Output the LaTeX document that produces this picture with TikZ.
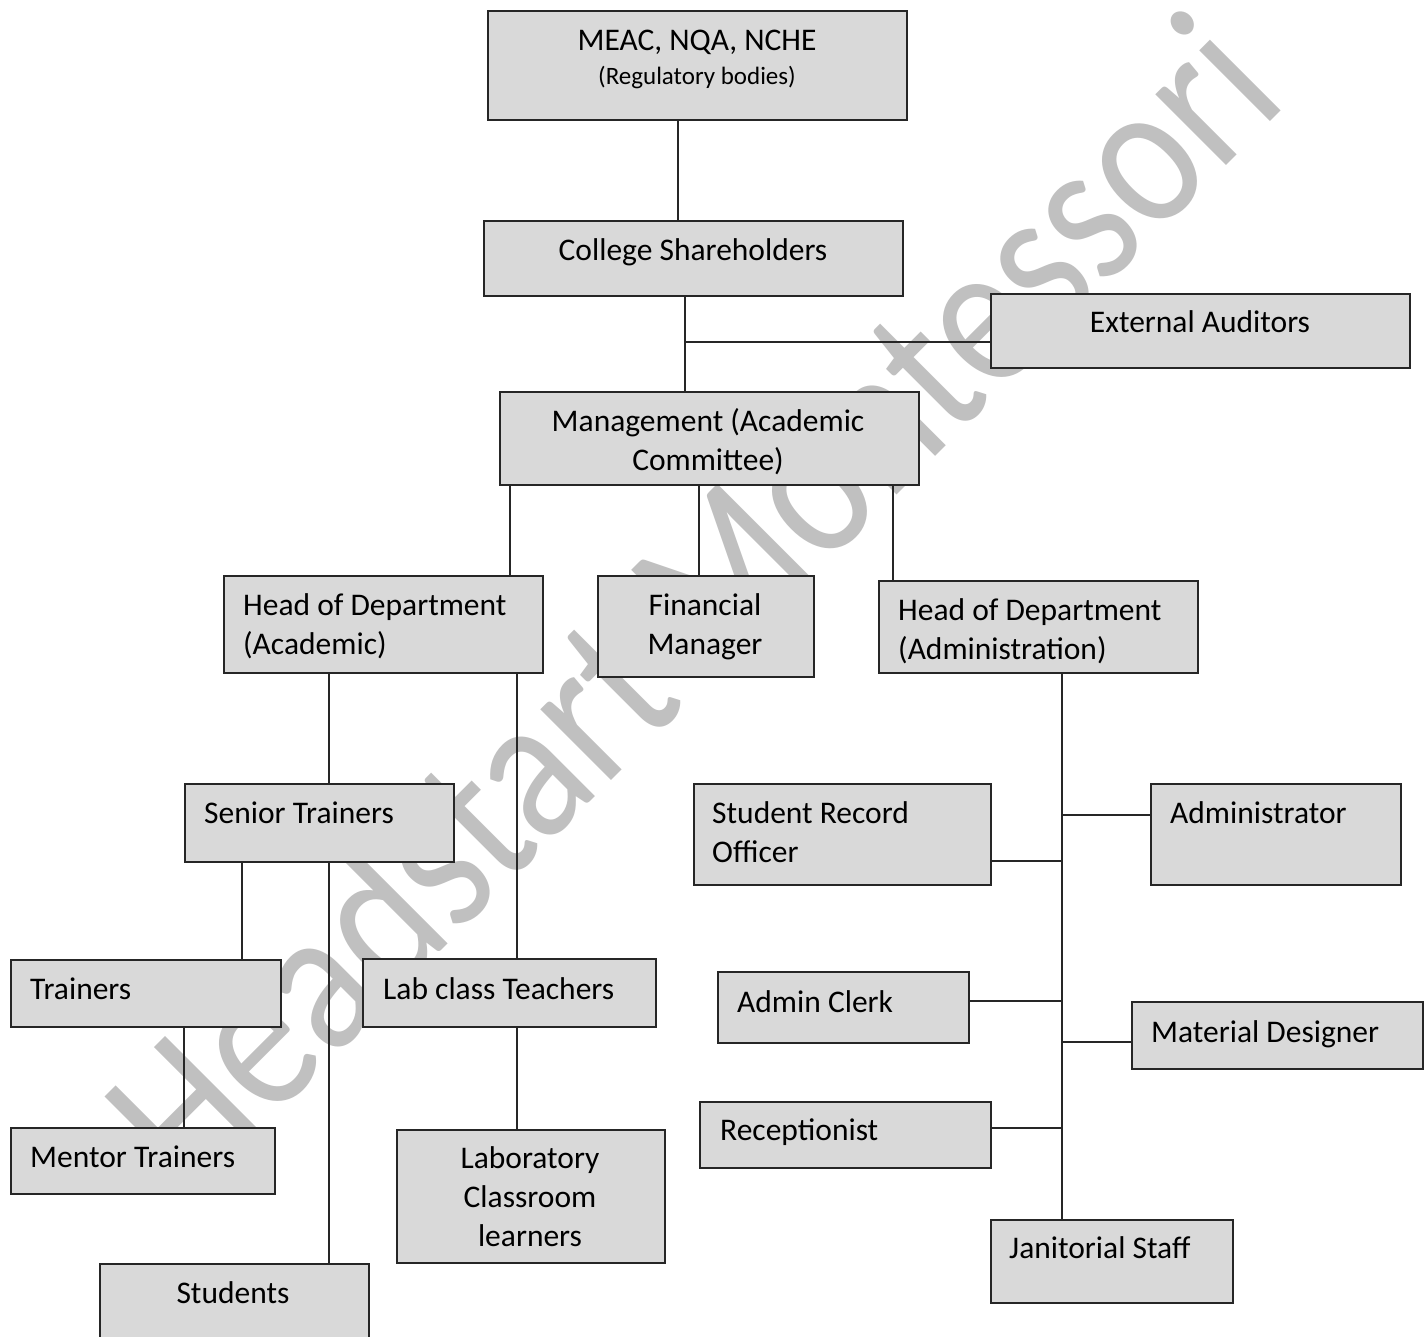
\documentclass[tikz,border=0pt]{standalone}
\usepackage{fontspec}
\setmainfont{Carlito}
\usetikzlibrary{calc}
\definecolor{boxfill}{HTML}{D9D9D9}
\definecolor{boxline}{HTML}{262626}
\definecolor{wmgray}{HTML}{C0C0C0}
\newcommand\boxtxt[2]{\begin{tabular}[t]{@{}#1@{}}#2\end{tabular}}
\tikzset{
  orgbox/.style={draw=boxline, fill=boxfill, line width=1.6pt, inner sep=0pt, anchor=north west},
  lbl/.style={inner sep=0pt, font=\fontsize{31.5}{39}\selectfont},
  lblsmall/.style={inner sep=0pt, font=\fontsize{25}{30}\selectfont},
  conn/.style={draw=boxline, line width=1.3pt},
  wm/.style={inner sep=0pt, text=wmgray, font=\fontsize{176}{200}\selectfont}
}
\newcommand\orgrect[5]{\node[orgbox, minimum width=#4-#2, minimum height=#5-#3] (#1) at (#2,#3) {};}
\begin{document}
\begin{tikzpicture}[x=1pt,y=-1pt]
\useasboundingbox (0,0) rectangle (1428,1337);
\clip (0,0) rectangle (1428,1337);
\fill[white] (0,0) rectangle (1428,1337);
% watermark
\node[wm, rotate=45, yscale=1.19, anchor=base] (wmark) at (741,651) {Headstart Montessori};
% boxes
\orgrect{meac}{487}{10}{906}{119}
\orgrect{college}{483}{220}{902}{295}
\orgrect{ext}{990}{293}{1409}{367}
\orgrect{mgmt}{499}{391}{918}{484}
\orgrect{hoda}{223}{575}{542}{672}
\orgrect{fin}{597}{575}{813}{676}
\orgrect{hodadm}{878}{580}{1197}{672}
\orgrect{senior}{184}{783}{453}{861}
\orgrect{trainers}{10}{959}{280}{1026}
\orgrect{lab}{362}{958}{655}{1026}
\orgrect{mentor}{10}{1127}{274}{1193}
\orgrect{students}{99}{1263}{368}{1345}
\orgrect{labcls}{396}{1129}{664}{1262}
\orgrect{sro}{693}{783}{990}{884}
\orgrect{admin}{1150}{783}{1400}{884}
\orgrect{clerk}{717}{971}{968}{1042}
\orgrect{matdes}{1131}{1001}{1422}{1068}
\orgrect{recep}{699}{1101}{990}{1167}
\orgrect{jan}{990}{1219}{1232}{1302}
% texts
\node[lbl, anchor=base] (tmeac) at (697,51) {MEAC, NQA, NCHE};
\node[lblsmall, anchor=base] (tmeac2) at (697,85) {(Regulatory bodies)};
\node[lbl, anchor=base] (tcollege) at (693,261) {College Shareholders};
\node[lbl, anchor=base] (text) at (1200,333) {External Auditors};
\node[lbl, anchor=base] (tmgmt) at (708,432) {\boxtxt{c}{Management (Academic\\Committee)}};
\node[lbl, anchor=base west] (thoda) at (243,615) {\boxtxt{l}{Head of Department\\(Academic)}};
\node[lbl, anchor=base] (tfin) at (705,615) {\boxtxt{c}{Financial\\Manager}};
\node[lbl, anchor=base west] (thodadm) at (898,620) {\boxtxt{l}{Head of Department\\(Administration)}};
\node[lbl, anchor=base west] (tsenior) at (204,823) {Senior Trainers};
\node[lbl, anchor=base west] (ttrainers) at (30,999) {Trainers};
\node[lbl, anchor=base west] (tlab) at (383,999) {Lab class Teachers};
\node[lbl, anchor=base west] (tmentor) at (30,1167) {Mentor Trainers};
\node[lbl, anchor=base] (tstudents) at (233,1303) {Students};
\node[lbl, anchor=base] (tlabcls) at (530,1168) {\boxtxt{c}{Laboratory\\Classroom\\learners}};
\node[lbl, anchor=base west] (tsro) at (712,823) {\boxtxt{l}{Student Record\\Officer}};
\node[lbl, anchor=base west] (tadmin) at (1170,823) {Administrator};
\node[lbl, anchor=base west] (tclerk) at (737,1012) {Admin Clerk};
\node[lbl, anchor=base west] (tmatdes) at (1151,1042) {Material Designer};
\node[lbl, anchor=base west] (trecep) at (720,1140) {Receptionist};
\node[lbl, anchor=base west] (tjan) at (1009,1258) {Janitorial Staff};
% connectors
\draw[conn] (678,0 |- meac.south) -- (678,0 |- college.north);
\draw[conn] (685,0 |- college.south) -- (685,0 |- mgmt.north);
\coordinate (extj) at (685,342);
\draw[conn] (extj) -- (ext.west |- extj);
\draw[conn] (510,0 |- mgmt.south) -- (510,0 |- hoda.north);
\draw[conn] (699,0 |- mgmt.south) -- (699,0 |- fin.north);
\draw[conn] (893,0 |- mgmt.south) -- (893,0 |- hodadm.north);
\draw[conn] (329,0 |- hoda.south) -- (329,0 |- senior.north);
\draw[conn] (329,0 |- senior.south) -- (329,0 |- students.north);
\draw[conn] (517,0 |- hoda.south) -- (517,0 |- lab.north);
\draw[conn] (242,0 |- senior.south) -- (242,0 |- trainers.north);
\draw[conn] (184,0 |- trainers.south) -- (184,0 |- mentor.north);
\draw[conn] (517,0 |- lab.south) -- (517,0 |- labcls.north);
\draw[conn] (1062,0 |- hodadm.south) -- (1062,0 |- jan.north);
\coordinate (tadm) at (1062,815);
\coordinate (tsr) at (1062,861);
\coordinate (tcl) at (1062,1001);
\coordinate (tmd) at (1062,1042);
\coordinate (trc) at (1062,1128);
\draw[conn] (tadm) -- (admin.west |- tadm);
\draw[conn] (sro.east |- tsr) -- (tsr);
\draw[conn] (clerk.east |- tcl) -- (tcl);
\draw[conn] (tmd) -- (matdes.west |- tmd);
\draw[conn] (recep.east |- trc) -- (trc);
\end{tikzpicture}
\end{document}
